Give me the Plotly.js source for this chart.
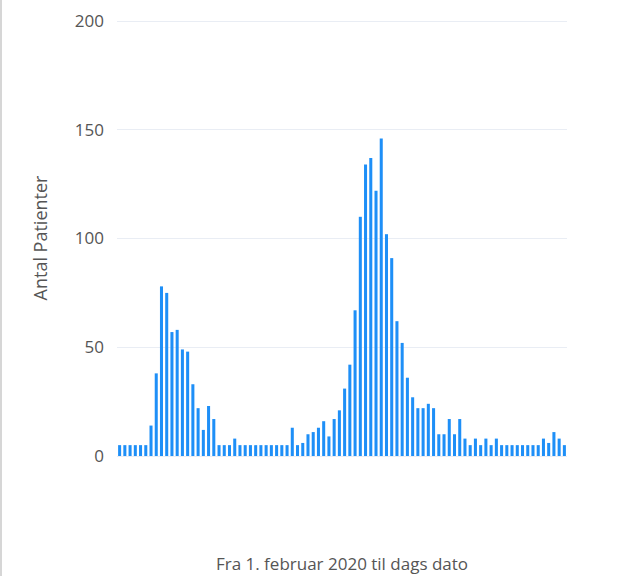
<!DOCTYPE html>
<html>
<head>
<meta charset="utf-8">
<script src="https://cdn.plot.ly/plotly-3.0.1.min.js"></script>
<style>
html,body{margin:0;padding:0;background:#fff;}
#chart{width:616px;height:576px;border-left:2px solid #d6d6d6;}
</style>
</head>
<body>
<div id="chart"></div>
<script>
// Daily patient counts from 1 February 2020 (one bar per period)
const dayIndex = Array.from({length: 86}, (_, i) => i);
const patients = [
  5, 5, 5, 5, 5, 5, 14, 38, 78, 75,
  57, 58, 49, 48, 33, 22, 12, 23, 17, 5,
  5, 5, 8, 5, 5, 5, 5, 5, 5, 5,
  5, 5, 5, 13, 5, 6, 10, 11, 13, 16,
  9, 17, 21, 31, 42, 67, 110, 134, 137, 122,
  146, 102, 91, 62, 52, 36, 27, 22, 22, 24,
  22, 10, 10, 17, 10, 17, 8, 5, 8, 5,
  8, 5, 8, 5, 5, 5, 5, 5, 5, 5,
  5, 8, 6, 11, 8, 5
];
const yTicks = [0, 50, 100, 150, 200];
const yTitle = "Antal Patienter";
const xTitle = "Fra 1. februar 2020 til dags dato";

const trace = {
  type: "bar",
  x: dayIndex,
  y: patients,
  marker: {color: "#1e8ff7"},
  hoverinfo: "y"
};

const layout = {
  width: 616,
  height: 576,
  margin: {l: 115, r: 51, t: 20, b: 120},
  paper_bgcolor: "#ffffff",
  plot_bgcolor: "#ffffff",
  bargap: 0.42,
  showlegend: false,
  font: {family: "Open Sans, Noto Sans, sans-serif", color: "#555555", size: 16},
  xaxis: {
    range: [-0.5, 85.5],
    showticklabels: false,
    showgrid: false,
    zeroline: false,
    showline: false,
    ticks: "",
    fixedrange: true,
    title: {text: xTitle, standoff: 102, font: {size: 17, color: "#555555"}}
  },
  yaxis: {
    range: [0, 200.5],
    tickvals: yTicks,
    ticktext: yTicks.map(String),
    gridcolor: "#e9edf4",
    gridwidth: 1,
    zeroline: true,
    zerolinecolor: "#e9edf4",
    zerolinewidth: 1,
    showline: false,
    ticks: "",
    ticklabelstandoff: 12,
    tickfont: {size: 17, color: "#555555"},
    fixedrange: true,
    title: {text: yTitle, standoff: 22, font: {size: 18, color: "#555555"}}
  }
};

Plotly.newPlot("chart", [trace], layout, {displayModeBar: false, staticPlot: true});
</script>
</body>
</html>
